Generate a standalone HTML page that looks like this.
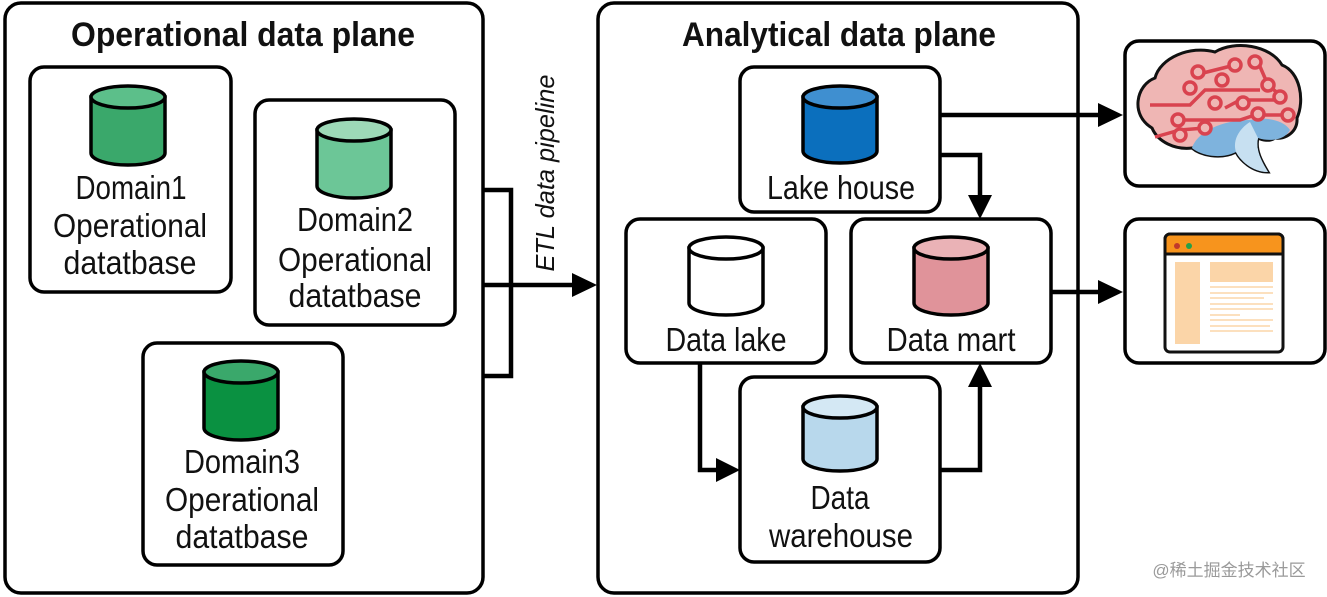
<!DOCTYPE html>
<html><head><meta charset="utf-8"><style>
html,body{margin:0;padding:0;background:#fff;}
svg{display:block;}
text{font-family:"Liberation Sans",sans-serif;fill:#111;}
</style></head><body>
<svg width="1327" height="597" viewBox="0 0 1327 597" xmlns="http://www.w3.org/2000/svg">
<g fill="none" stroke="#000" stroke-width="3.5">
<rect x="5" y="3" width="478" height="590" rx="16"/>
<rect x="598" y="3" width="480" height="590" rx="16"/>
<rect x="30" y="67" width="201" height="225" rx="14"/>
<rect x="255" y="100" width="200" height="225" rx="14"/>
<rect x="143" y="343" width="200" height="222" rx="14"/>
<rect x="740" y="67" width="200" height="145" rx="14"/>
<rect x="626" y="219" width="200" height="144" rx="14"/>
<rect x="851" y="219" width="200" height="144" rx="14"/>
<rect x="740" y="377" width="200" height="185" rx="14"/>
<rect x="1125" y="41" width="200" height="145" rx="14"/>
<rect x="1125" y="219" width="200" height="144" rx="14"/>
</g>
<g fill="none" stroke="#000" stroke-width="4.5">
<polyline points="483,190 511,190 511,376 483,376"/>
<line x1="483" y1="285" x2="575" y2="285"/>
<line x1="940" y1="115" x2="1100" y2="115"/>
<polyline points="940,155 980,155 980,198"/>
<polyline points="700,363 700,470 718,470"/>
<polyline points="940,470 980,470 980,386"/>
<line x1="1051" y1="292" x2="1100" y2="292"/>
</g>
<g fill="#000">
<polygon points="572,273 597,285 572,297"/>
<polygon points="1098,103 1123,115 1098,127"/>
<polygon points="968,195 980,219 992,195"/>
<polygon points="716,458 740,470 716,482"/>
<polygon points="968,387 980,363 992,387"/>
<polygon points="1098,280 1123,292 1098,304"/>
</g>
<g stroke="#000" stroke-width="3.5">
<path d="M91,97 V153 A37,12 0 0 0 165,153 V97 Z" fill="#3aa86b"/><ellipse cx="128" cy="97" rx="37" ry="11" fill="#5cbf8a"/>
<path d="M317,130 V186 A37,12 0 0 0 391,186 V130 Z" fill="#6cc697"/><ellipse cx="354" cy="130" rx="37" ry="11" fill="#9dd9b7"/>
<path d="M204,372 V428 A37,12 0 0 0 278,428 V372 Z" fill="#0a9141"/><ellipse cx="241" cy="372" rx="37" ry="11" fill="#3aa86b"/>
<path d="M803,97 V151 A37,12 0 0 0 877,151 V97 Z" fill="#0b6fbd"/><ellipse cx="840" cy="97" rx="37" ry="11" fill="#3f8fd0"/>
<path d="M689,248 V303 A37,12 0 0 0 763,303 V248 Z" fill="#fff"/><ellipse cx="726" cy="248" rx="37" ry="11" fill="#fff"/>
<path d="M914,248 V303 A37,12 0 0 0 988,303 V248 Z" fill="#e0939a"/><ellipse cx="951" cy="248" rx="37" ry="11" fill="#eab2b6"/>
<path d="M803,407 V459 A37,12 0 0 0 877,459 V407 Z" fill="#b8d8ec"/><ellipse cx="840" cy="407" rx="37" ry="11" fill="#d4e8f4"/>
</g>
<!-- brain -->
<g>
<path d="M1152,128 C1130,115 1136,85 1155,78 C1160,58 1190,45 1215,52 C1235,40 1270,45 1282,65 C1300,72 1305,100 1297,118 C1298,132 1285,140 1275,138 C1270,142 1262,140 1258,138 C1255,150 1262,162 1268,172 C1252,172 1240,160 1236,152 C1220,160 1200,155 1192,148 C1175,150 1158,142 1152,128 Z" fill="#efb6b4" stroke="#111" stroke-width="3"/>
<path d="M1192,148 C1198,130 1225,120 1250,120 C1270,116 1285,122 1290,130 C1285,140 1270,142 1258,138 C1255,150 1262,162 1268,172 C1252,172 1240,160 1236,152 C1220,160 1200,155 1192,148 Z" fill="#7eb3dd"/>
<path d="M1236,152 C1232,140 1240,128 1250,122 L1258,138 C1255,150 1262,162 1268,172 C1252,172 1240,160 1236,152Z" fill="#c7e0f1"/>
<g fill="none" stroke="#d9434f" stroke-width="3.5">
<path d="M1150,105 H1190 L1205,90 H1260 M1180,120 H1240 L1255,115 H1290 M1155,137 L1180,130 L1205,128 M1195,75 L1215,70 L1235,65 M1225,108 L1240,100 H1275 M1258,62 L1268,85 L1280,95"/>
<g fill="#efb6b4">
<circle cx="1178" cy="120" r="6"/><circle cx="1190" cy="88" r="6"/><circle cx="1198" cy="72" r="6"/>
<circle cx="1215" cy="103" r="6"/><circle cx="1235" cy="65" r="6"/><circle cx="1243" cy="103" r="6"/>
<circle cx="1255" cy="62" r="6"/><circle cx="1268" cy="85" r="6"/><circle cx="1288" cy="115" r="6"/>
<circle cx="1205" cy="128" r="6"/><circle cx="1180" cy="135" r="6"/><circle cx="1222" cy="80" r="6"/>
<circle cx="1258" cy="114" r="6"/><circle cx="1280" cy="97" r="6"/>
</g>
</g>
</g>
<!-- browser -->
<g>
<rect x="1165" y="234" width="118" height="118" rx="5" fill="#fff" stroke="#111" stroke-width="3"/>
<path d="M1165,254 V239 A5,5 0 0 1 1170,234 H1278 A5,5 0 0 1 1283,239 V254 Z" fill="#f7941d" stroke="#111" stroke-width="3"/>
<circle cx="1177" cy="246" r="3" fill="#c0392b"/><circle cx="1189" cy="246" r="3" fill="#27a048"/>
<rect x="1175" y="262" width="25" height="82" fill="#fbd5a8"/>
<rect x="1210" y="262" width="63" height="20" fill="#fbd5a8"/>
<g stroke="#fbd5a8" stroke-width="1.5">
<line x1="1210" y1="287" x2="1273" y2="287"/><line x1="1210" y1="293" x2="1273" y2="293"/><line x1="1210" y1="298" x2="1264" y2="298"/>
<line x1="1210" y1="304" x2="1273" y2="304"/><line x1="1210" y1="309" x2="1273" y2="309"/><line x1="1210" y1="315" x2="1240" y2="315"/>
<line x1="1210" y1="320" x2="1273" y2="320"/><line x1="1210" y1="326" x2="1270" y2="326"/><line x1="1210" y1="331" x2="1273" y2="331"/>
</g>
</g>
<g font-size="34" text-anchor="middle" font-weight="600">
<text x="243" y="46" textLength="344" lengthAdjust="spacingAndGlyphs">Operational data plane</text>
<text x="839" y="46" textLength="314" lengthAdjust="spacingAndGlyphs">Analytical data plane</text>
</g>
<g font-size="33" text-anchor="middle">
<text x="131" y="199" textLength="111" lengthAdjust="spacingAndGlyphs">Domain1</text>
<text x="130" y="237" textLength="154" lengthAdjust="spacingAndGlyphs">Operational</text>
<text x="130" y="274" textLength="133" lengthAdjust="spacingAndGlyphs">datatbase</text>
<text x="355" y="231" textLength="116" lengthAdjust="spacingAndGlyphs">Domain2</text>
<text x="355" y="271" textLength="154" lengthAdjust="spacingAndGlyphs">Operational</text>
<text x="355" y="307" textLength="133" lengthAdjust="spacingAndGlyphs">datatbase</text>
<text x="242" y="473" textLength="116" lengthAdjust="spacingAndGlyphs">Domain3</text>
<text x="242" y="511" textLength="154" lengthAdjust="spacingAndGlyphs">Operational</text>
<text x="242" y="548" textLength="133" lengthAdjust="spacingAndGlyphs">datatbase</text>
<text x="841" y="199" textLength="148" lengthAdjust="spacingAndGlyphs">Lake house</text>
<text x="726" y="351" textLength="121" lengthAdjust="spacingAndGlyphs">Data lake</text>
<text x="951" y="351" textLength="129" lengthAdjust="spacingAndGlyphs">Data mart</text>
<text x="840" y="509" textLength="59" lengthAdjust="spacingAndGlyphs">Data</text>
<text x="841" y="547" textLength="144" lengthAdjust="spacingAndGlyphs">warehouse</text>
</g>
<text x="0" y="0" font-size="26" font-style="italic" text-anchor="middle" textLength="197" lengthAdjust="spacingAndGlyphs" transform="translate(554,173) rotate(-90)">ETL data pipeline</text>
<text x="1229" y="576" font-size="17" text-anchor="middle" style="fill:#9a9a9a;font-family:'Liberation Sans','Noto Sans CJK SC',sans-serif">@稀土掘金技术社区</text>
</svg>
</body></html>
